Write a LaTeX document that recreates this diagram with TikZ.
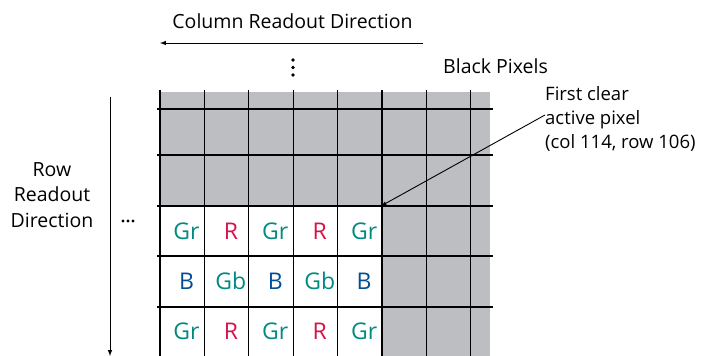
\documentclass[tikz,border=0pt]{standalone}
\usepackage{fontspec}
\setmainfont{Open Sans}
\definecolor{pixgray}{RGB}{189,190,194}
\definecolor{grteal}{RGB}{0,138,128}
\definecolor{rred}{RGB}{214,18,76}
\definecolor{bblue}{RGB}{0,78,152}
\begin{document}
\begin{tikzpicture}[x=1pt,y=-1pt,
    lbl/.style={font=\fontsize{19.5}{24.5}\selectfont,inner sep=0pt},
    pix/.style={font=\fontsize{23}{26}\selectfont,inner sep=0pt,anchor=base}]
    \useasboundingbox (0,0) rectangle (702,356);
    %% NOTE:
    %% black pixels (gray) and active pixels (white)
    \fill[pixgray] (160,92) rectangle (490,356);
    \fill[white] (160,206) rectangle (381,356);
    %% grid
    \foreach \x in {160,204.4,248.8,293.2,337.6,382,426.4,470.8}
        \draw[line width=1.2pt] (\x,90) -- (\x,356);
    \foreach \y in {109,155,206,256,307}
        \draw[line width=1.2pt] (157,\y) -- (493,\y);
    %% color filter labels
    \foreach \lab/\col [count=\i from 0] in {Gr/grteal,R/rred,Gr/grteal,R/rred,Gr/grteal}
        \node[pix,text=\col] (ra\i) at (186.5+44.4*\i,239) {\lab};
    \foreach \lab/\col [count=\i from 0] in {B/bblue,Gb/grteal,B/bblue,Gb/grteal,B/bblue}
        \node[pix,text=\col] (rb\i) at (186.5+44.4*\i,289.5) {\lab};
    \foreach \lab/\col [count=\i from 0] in {Gr/grteal,R/rred,Gr/grteal,R/rred,Gr/grteal}
        \node[pix,text=\col] (rc\i) at (186.5+44.4*\i,339) {\lab};
    %% column readout
    \node[lbl,anchor=base] (coltitle) at (292.5,28) {Column Readout Direction};
    \coordinate (colstart) at (423,43);
    \coordinate (colend) at (160,43);
    \draw[-latex,line width=1pt] (colstart) -- (colend);
    \foreach \y in {60,67.5,75}
        \fill (293,\y) circle (1.9pt);
    \node[lbl,anchor=base west] (black) at (443,73) {Black Pixels};
    %% row readout
    \coordinate (rowtop) at (110,97);
    \coordinate (rowbot) at (110,356);
    \draw[-latex,line width=1pt] (rowtop) -- (rowbot);
    \node[lbl,align=center,anchor=north,font=\fontsize{19.5}{25.5}\selectfont] (rowtitle) at (52,162) {Row\\Readout\\Direction};
    \foreach \x in {123,128,133}
        \fill (\x,221) circle (1.6pt);
    %% first clear active pixel
    \node[lbl,align=left,anchor=north west,font=\fontsize{18.5}{24}\selectfont] (firstclear) at (545,86) {First clear\\active pixel\\(col 114, row 106)};
    \coordinate (leadstart) at (545,115);
    \coordinate (firstpix) at (381,206);
    \draw[-latex,line width=0.9pt] (leadstart) -- (firstpix);
\end{tikzpicture}
\end{document}
